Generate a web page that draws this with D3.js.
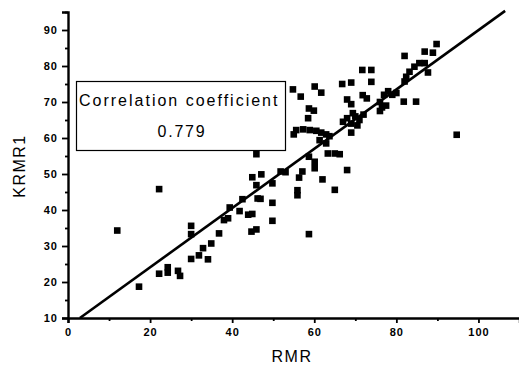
<!DOCTYPE html>
<html><head><meta charset="utf-8">
<script src="https://cdn.jsdelivr.net/npm/d3@7"></script>
<style>body{margin:0;background:#fff}svg{display:block}text{font-family:"Liberation Sans",Arial,sans-serif;fill:#000}</style>
</head><body><svg id="c" width="519" height="367"></svg>
<script>
const rmr = [12,22.2,17.3,22.2,24.3,24.3,26.8,27.3,30,30,30,31.9,32.9,34.1,34.9,36.8,38,39,39.4,41.8,42.5,43.9,44.9,44.7,45.9,46.2,45.9,45.9,44.9,47.1,49.8,46.9,49.8,49.8,58.7,
51.8,53,56.3,57.1,55.9,55.9,60.1,60.1,58.7,62,65,68,63.3,65,66.2,61.3,62.9,63.7,
55,55.6,57.3,58.9,60.5,61.7,62.9,
54.8,56.7,60.1,61.7,58.7,59.9,58.5,
66.8,69,71.7,73.9,73.9,68,69,71.8,72.8,69.4,69,
67,68,69,70,71,72,70.5,
76,77,78,79,76.5,77.5,76,80,
81.8,84.8,82,86.9,88.9,89.8,83.2,84.4,85.6,86.9,82.4,87.7,82,94.7];
const krmr1 = [34.3,45.8,18.7,22.3,24.1,22.6,23.1,21.7,35.6,33.3,26.4,27.4,29.4,26.3,30.7,33.5,37.2,37.7,40.7,39.7,43,38.7,38.9,34,34.6,43.2,46.9,55.5,49.1,49.9,47.4,43.1,42,37,33.3,
50.7,50.5,49,50.7,45.5,44.1,53.4,51.6,54.8,48.5,45.6,51.1,55.7,55.7,55.5,59.4,58.5,60.5,
61,62.2,62.4,62.2,62,61.5,61,
73.5,71.5,74.3,72.6,68.2,67.6,65.5,
75,75.4,78.9,78.9,75.6,70.7,69.4,71.9,71,66.9,61.5,
64.5,65.5,64,66,65,66.5,63.5,
70,72,73,72,68.5,69,67.5,72.5,
70.1,70.1,82.8,84,83.7,86.1,78.4,79.8,80.8,80.8,77,78.2,75.7,60.9];
const fitX = [2.9,106.5];
const fitY = [10,95.3];
const xTicks = [0,20,40,60,80,100];
const xMinor = [10,30,50,70,90,110];
const yTicks = [10,20,30,40,50,60,70,80,90];
const yMinor = [15,25,35,45,55,65,75,85,95];
const xTitle = "RMR", yTitle = "KRMR1";
const boxLines = ["Correlation coefficient","0.779"];

const svg = d3.select("#c");
const x = d3.scaleLinear().domain([0,110]).range([68,519.5]);
const y = d3.scaleLinear().domain([10,95]).range([318,12]);

// markers
const pts = rmr.map((v,i)=>[v,krmr1[i]]);
svg.append("g").selectAll("rect").data(pts).join("rect")
  .attr("x",d=>x(d[0])-3.3).attr("y",d=>y(d[1])-3.3).attr("width",6.6).attr("height",6.6).attr("fill","#000");

// fit line
svg.append("path").datum(fitX.map((v,i)=>[v,fitY[i]]))
  .attr("d",d3.line().x(d=>x(d[0])).y(d=>y(d[1])))
  .attr("stroke","#000").attr("stroke-width",2.6).attr("fill","none");

// axes
svg.append("g").attr("transform","translate(0,318)")
  .call(d3.axisBottom(x).tickValues(xTicks).tickFormat(d3.format("d")).tickSize(5).tickPadding(5));
svg.append("g").attr("transform","translate(0,318)")
  .call(d3.axisBottom(x).tickValues(xMinor).tickFormat("").tickSize(3))
  .select(".domain").remove();
svg.append("g").attr("transform","translate(68,0)")
  .call(d3.axisLeft(y).tickValues(yTicks).tickFormat(d3.format("d")).tickSize(6).tickPadding(4));
svg.append("g").attr("transform","translate(68,0)")
  .call(d3.axisLeft(y).tickValues(yMinor).tickFormat("").tickSize(3))
  .select(".domain").remove();
svg.selectAll(".domain").attr("stroke-width",2.4);
svg.selectAll(".tick line").attr("stroke-width",1.8);
svg.selectAll(".tick text").attr("font-size",11).attr("font-weight","bold").attr("letter-spacing","1px")
  .style("font-family","Liberation Sans, Arial, sans-serif");

// titles
svg.append("text").attr("x",292).attr("y",362).attr("text-anchor","middle")
  .attr("font-size",16).attr("letter-spacing","1.5px").text(xTitle);
svg.append("text").attr("transform","translate(25,166) rotate(-90)").attr("text-anchor","middle")
  .attr("font-size",16).attr("letter-spacing","1.5px").text(yTitle);

// annotation box
svg.append("rect").attr("x",76.5).attr("y",81.5).attr("width",209).attr("height",69)
  .attr("fill","#fff").attr("stroke","#000").attr("stroke-width",1.2);
svg.append("text").attr("x",79).attr("y",106).attr("font-size",16).attr("letter-spacing","2px").text(boxLines[0]);
svg.append("text").attr("x",182).attr("y",137).attr("text-anchor","middle").attr("font-size",16).attr("letter-spacing","1.8px").text(boxLines[1]);
</script></body></html>
